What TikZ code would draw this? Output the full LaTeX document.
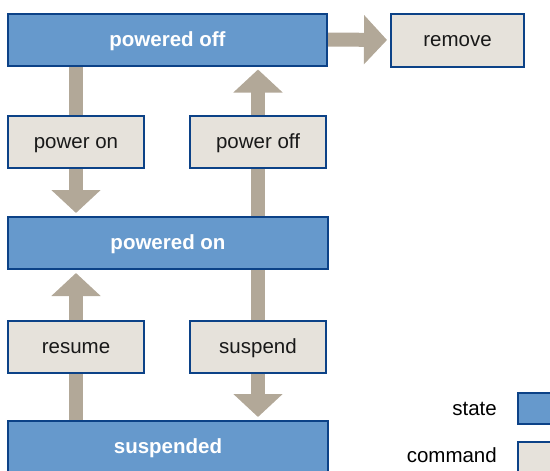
\documentclass[tikz,border=0pt]{standalone}
\usepackage{fontspec}
\setmainfont{Liberation Sans}
\usetikzlibrary{arrows.meta,backgrounds}
\definecolor{statefill}{RGB}{102,153,204}
\definecolor{stateline}{RGB}{12,66,135}
\definecolor{cmdfill}{RGB}{230,226,219}
\definecolor{flowcol}{RGB}{178,168,152}
\tikzset{
  boxtext/.style={font=\fontsize{20.5}{24}\selectfont, text height=17pt, text depth=3.5pt},
  statebox/.style={boxtext, draw=stateline, line width=2pt, fill=statefill, text=white,
    font=\fontsize{20.5}{24}\selectfont\bfseries, minimum width=319pt, minimum height=52pt, inner sep=0pt},
  cmdbox/.style={boxtext, draw=stateline, line width=2pt, fill=cmdfill, text=black!90,
    minimum width=136pt, minimum height=52pt, inner sep=0pt},
  flow/.style={draw=flowcol, line width=14pt, -{Triangle[width=48pt,length=23pt]}, shorten >=3pt}
}

\begin{document}
\begin{tikzpicture}[x=1pt, y=-1pt]
		%%%%% START %%%%%
		\useasboundingbox (0, 0) rectangle (550, 471);
		
		\node[statebox] (off) at (167.5, 39.5) {powered off};
		\node[cmdbox, minimum width=133pt, minimum height=53pt] (remove) at (457.5, 40) {remove};
		
		\node[cmdbox] (pwron) at (76, 142) {power on};
		\node[cmdbox] (pwroff) at (258, 142) {power off};
		
		\node[statebox, minimum width=320pt] (on) at (168, 243) {powered on};
		
		\node[cmdbox] (resume) at (76, 346.5) {resume};
		\node[cmdbox] (suspend) at (258, 346.5) {suspend};
		
		\node[statebox, minimum width=320pt] (susp) at (168, 447) {suspended};
		
		% legend
		\node[boxtext, anchor=east, inner sep=0pt] (statelbl) at (497, 409) {state};
		\node[statebox, minimum width=36pt, minimum height=31pt] (statekey) at (536, 408.5) {};
		\node[boxtext, anchor=east, inner sep=0pt] (cmdlbl) at (497, 456) {command};
		\node[cmdbox, minimum width=36pt, minimum height=31pt] (cmdkey) at (536, 457.5) {};
		
		\begin{scope}[on background layer]
		\draw[flow] (pwron |- off.south) -- (pwron |- on.north);
		\draw[flow] (pwroff |- on.north) -- (pwroff |- off.south);
		\draw[flow] (resume |- susp.north) -- (resume |- on.south);
		\draw[flow] (suspend |- on.south) -- (suspend |- susp.north);
		\draw[flow] (off.east) -- (remove.west);
		\end{scope}
		
		%%%%% END %%%%%
\end{tikzpicture}
\end{document}
